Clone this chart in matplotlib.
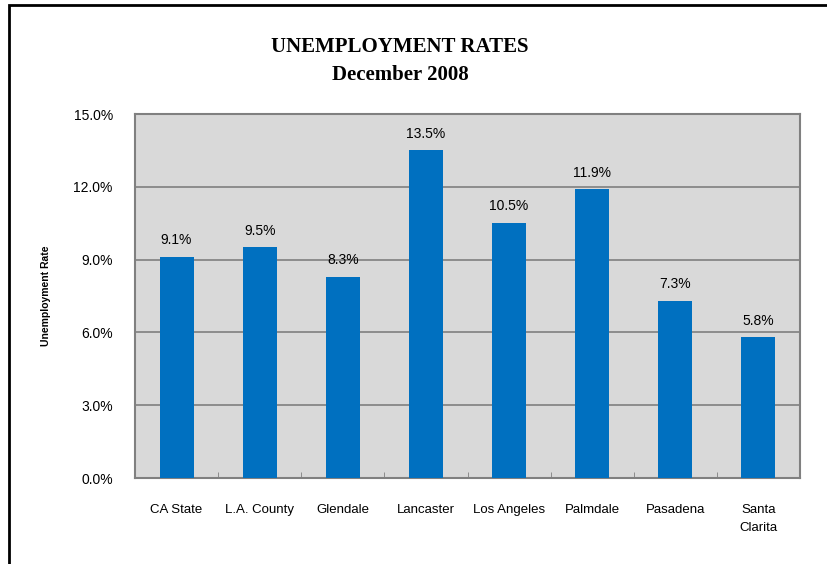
import matplotlib.pyplot as plt
from matplotlib.patches import Rectangle
from matplotlib.ticker import FuncFormatter, FixedLocator

areas = ['CA State', 'L.A. County', 'Glendale', 'Lancaster', 'Los Angeles',
         'Palmdale', 'Pasadena', 'Santa\nClarita']
rates = [9.1, 9.5, 8.3, 13.5, 10.5, 11.9, 7.3, 5.8]
y_ticks = [0, 3, 6, 9, 12, 15]

plt.rcParams['font.family'] = ['Liberation Sans', 'DejaVu Sans']

fig = plt.figure(figsize=(8.28, 5.64), dpi=100)
fig.patches.append(Rectangle((9 / 828, -0.1), 1.2, 1.1 - 5 / 564, transform=fig.transFigure,
                             fill=False, edgecolor='black', linewidth=2))

ax = fig.add_axes([135 / 828, 1 - 478 / 564, 665 / 828, 364 / 564])
ax.set_facecolor('#d9d9d9')
ax.bar(range(len(areas)), rates, width=0.41, color='#0070c0', zorder=3)
for i, v in enumerate(rates):
    ax.text(i, v + 0.4, '%.1f%%' % v, ha='center', va='bottom', fontsize=10)

ax.set_xlim(-0.5, len(areas) - 0.5)
ax.set_ylim(0, 15)
ax.set_yticks(y_ticks)
ax.yaxis.set_major_formatter(FuncFormatter(lambda v, p: '%.1f%%' % v))
ax.grid(axis='y', color='#808080', linewidth=1.2, zorder=1)
ax.set_xticks(range(len(areas)))
ax.set_xticklabels(areas, fontsize=9.5, linespacing=1.6, va='top')
ax.xaxis.set_minor_locator(FixedLocator([i + 0.5 for i in range(len(areas) - 1)]))
ax.tick_params(axis='x', which='major', length=0, pad=19)
ax.tick_params(axis='x', which='minor', direction='in', length=4, color='#808080')
ax.tick_params(axis='y', length=0, pad=16, labelsize=10)
for s in ax.spines.values():
    s.set_color('#808080')
    s.set_linewidth(1.5)

ax.set_ylabel('Unemployment Rate', fontsize=7.5, fontweight='bold', labelpad=16)
fig.text(400 / 828, 1 - 61 / 564, 'UNEMPLOYMENT RATES\nDecember 2008', ha='center', va='center',
         fontsize=15, fontweight='bold', family='Liberation Serif', linespacing=1.5)

plt.savefig('out.png', dpi=100)
